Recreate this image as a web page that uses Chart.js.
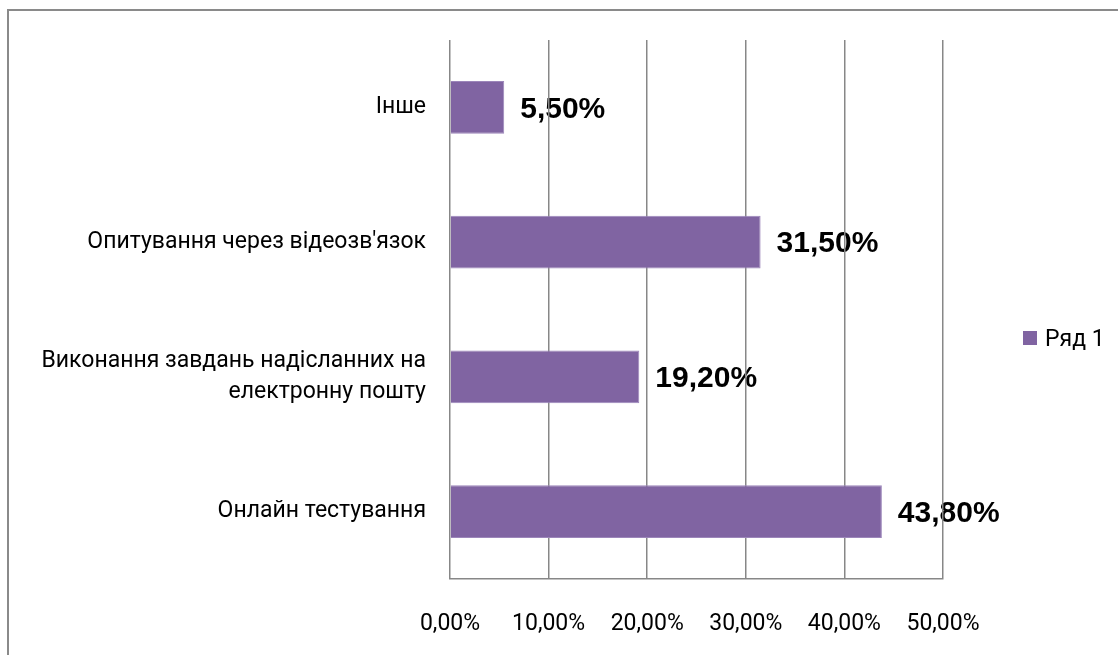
<!DOCTYPE html>
<html>
<head>
<meta charset="utf-8">
<script src="https://cdn.jsdelivr.net/npm/chart.js@4.4.0/dist/chart.umd.min.js"></script>
<style>
    body { margin: 0; background: #fff; }
    #wrap { position: relative; width: 1118px; height: 655px; overflow: hidden; }
    #frame { position: absolute; left: 7px; top: 9px; width: 1200px; height: 800px; border: 2px solid #8a8a8a; }
    #chart { position: absolute; left: 0; top: 0; }
    #legend { position: absolute; left: 1023px; top: 324px; height: 28px; display: flex; align-items: center;
              font-family: Roboto, sans-serif; font-size: 23px; color: #000; }
    #legend .box { width: 14px; height: 14px; margin-right: 8px; }
</style>
</head>
<body>
<div id="wrap">
    <div id="frame"></div>
    <canvas id="chart" width="1118" height="655"></canvas>
    <div id="legend"></div>
</div>
<script>
let categories = [
    'Інше',
    'Опитування через відеозв\'язок',
    ['Виконання завдань надісланних на', 'електронну пошту'],
    'Онлайн тестування'
];
let seriesName = 'Ряд 1';
let seriesValues = [5.5, 31.5, 19.2, 43.8];
let xTicks = [0, 10, 20, 30, 40, 50];

let labelFont = 'Roboto';
let barColor = '#8064A2';

function formatPercent(value) {
    return value.toFixed(2).replace('.', ',') + '%';
}

// value labels, drawn before the grid so the grid lines run over them
const valueLabels = {
    id: 'valueLabels',
    beforeDraw(chart) {
        let ctx = chart.ctx;
        let meta = chart.getDatasetMeta(0);
        ctx.save();
        ctx.font = 'bold 30px "Liberation Sans", Arial, sans-serif';
        ctx.fillStyle = '#000';
        ctx.textAlign = 'left';
        ctx.textBaseline = 'middle';
        meta.data.forEach(function (bar, i) {
            ctx.fillText(formatPercent(seriesValues[i]), bar.x + 16, bar.y + 2);
        });
        ctx.restore();
    }
};

let ctx = document.getElementById('chart').getContext('2d');

let chart = new Chart(ctx, {
    type: 'bar',
    data: {
        labels: categories,
        datasets: [{
            label: seriesName,
            data: seriesValues,
            backgroundColor: barColor,
            borderColor: '#9c86ba',
            borderWidth: 1,
            barPercentage: 0.39,
            categoryPercentage: 1
        }]
    },
    options: {
        indexAxis: 'y',
        responsive: false,
        animation: false,
        layout: {
            padding: { left: 8, top: 40, right: 175, bottom: 0 }
        },
        scales: {
            x: {
                min: 0,
                max: 50,
                afterBuildTicks: function (scale) {
                    scale.ticks = xTicks.map(v => ({ value: v }));
                },
                afterFit: function (scale) {
                    scale.height = 76;
                },
                grid: { color: '#878787', lineWidth: 1.5, drawTicks: false },
                border: { color: '#878787', width: 1.5 },
                ticks: {
                    padding: 31,
                    color: '#000',
                    font: { family: labelFont, size: 23 },
                    callback: function (value) {
                        return formatPercent(value);
                    }
                }
            },
            y: {
                afterFit: function (scale) {
                    scale.width = 442;
                },
                grid: { display: false, drawTicks: false },
                border: { display: false },
                ticks: {
                    padding: 24,
                    color: '#000',
                    font: { family: labelFont, size: 23, lineHeight: 1.35 }
                }
            }
        },
        plugins: {
            legend: { display: false },
            tooltip: { enabled: false }
        }
    },
    plugins: [valueLabels]
});

// legend outside the canvas, built from the dataset
chart.data.datasets.forEach(function (ds) {
    let box = document.createElement('span');
    box.className = 'box';
    box.style.background = ds.backgroundColor;
    let text = document.createElement('span');
    text.textContent = ds.label;
    document.getElementById('legend').append(box, text);
});
</script>
</body>
</html>
